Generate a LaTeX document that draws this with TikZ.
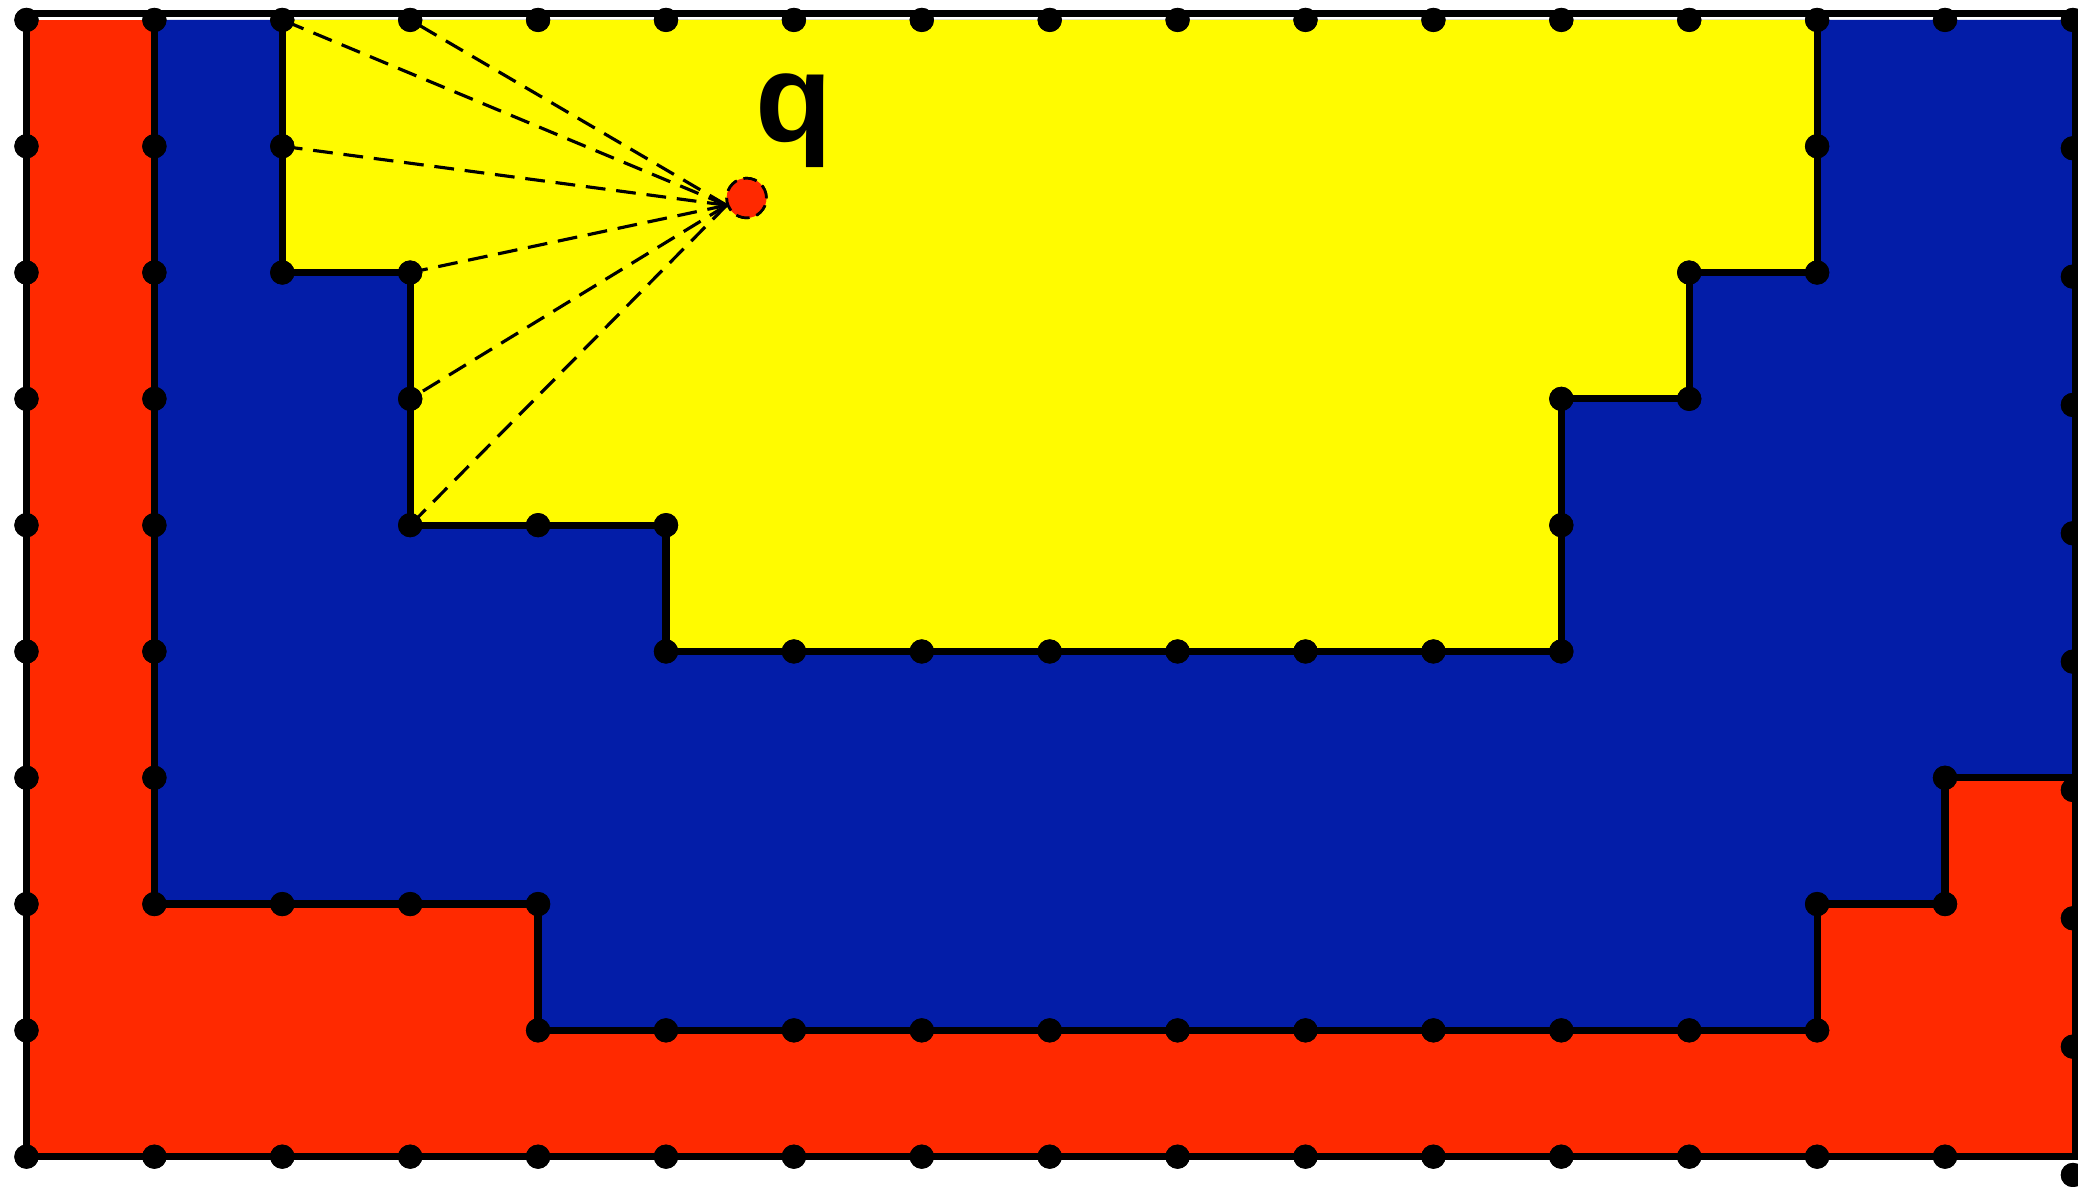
\documentclass[tikz,border=0pt]{standalone}
\usepackage{fontspec}
\setsansfont{Liberation Sans}

\definecolor{rouge}{RGB}{255,41,0}
\definecolor{bleu}{RGB}{3,29,168}
\definecolor{jaune}{RGB}{255,251,0}

\begin{document}
\begin{tikzpicture}[x=1cm, y=0.9875cm]
    \tikzset{
        bordstyle/.style={line width=1.6pt, black},
        sommet/.style={circle, fill=black, inner sep=0pt, minimum size=0.19cm},
        rayon/.style={line width=0.7pt, dash pattern=on 4.4pt off 2.4pt},
        pointq/.style={circle, fill=rouge, draw=black, line width=0.6pt,
            dash pattern=on 3pt off 1.6pt, inner sep=0pt, minimum size=0.31cm},
        etiquette/.style={font=\sffamily\bfseries\fontsize{28}{32}\selectfont}
    }

    \useasboundingbox (-0.207,-0.2375) rectangle (16.04,9.158);
    \clip (-0.207,-0.2375) rectangle (16.04,9.095);

    % --- REGIONS ---
    \fill[rouge] (0,0) rectangle (16,9);
    \fill[bleu] (1,9) |- (4,2) |- (14,1) |- (15,2) |- (16,3) -- (16,9) -- cycle;
    \fill[jaune] (2,9) |- (3,7) |- (5,5) |- (12,4) |- (13,6) |- (14,7) -- (14,9) -- cycle;

    % --- SOMMETS (ligne par ligne) ---
    \foreach \y/\liste in {9/{0,...,15}, 8/{0,1,2,14}, 7/{0,1,2,3,13,14},
                          6/{0,1,3,12,13}, 5/{0,1,3,4,5,12},
                          4/{0,1,5,6,7,8,9,10,11,12}, 3/{0,1,15},
                          2/{0,1,2,3,4,14,15}, 1/{0,4,5,...,14}, 0/{0,...,15}} {
        \foreach \x in \liste {
            \node[sommet] (s-\x-\y) at (\x,\y) {};
        }
    }
    % colonne de droite (decalee)
    \foreach \k in {0,...,9} {
        \node[sommet] (d-\k) at (16,{9-\k*1.0161}) {};
    }

    % --- POINT q ---
    \node[pointq] (q) at (5.63,7.59) {};
    \node[etiquette, anchor=base] (nomq) at (6.0,8.04) {q};

    % rayons de visibilite
    \foreach \cible in {s-2-9, s-3-9, s-2-8, s-3-7, s-3-6, s-3-5} {
        \draw[rayon] (q.200) -- (\cible.center);
    }

    % --- BORDS ---
    \draw[bordstyle] (1,9) |- (4,2) |- (14,1) |- (15,2) |- (16,3);
    \draw[bordstyle] (2,9) |- (3,7) |- (5,5) |- (12,4) |- (13,6) |- (14,7) -- (14,9);
    \draw[bordstyle] (0,9.05) -- (0,0) -- (16.02,0) -- (16.02,9.05) -- cycle;

    % sommets par-dessus les bords
    \foreach \y/\liste in {9/{0,...,15}, 8/{0,1,2,14}, 7/{0,1,2,3,13,14},
                          6/{0,1,3,12,13}, 5/{0,1,3,4,5,12},
                          4/{0,1,5,6,7,8,9,10,11,12}, 3/{0,1,15},
                          2/{0,1,2,3,4,14,15}, 1/{0,4,5,...,14}, 0/{0,...,15}} {
        \foreach \x in \liste {
            \fill (s-\x-\y) circle (0.095);
        }
    }
    \foreach \k in {0,...,9} {
        \fill (d-\k) circle (0.095);
    }
    \node[pointq] at (q) {};

\end{tikzpicture}
\end{document}
